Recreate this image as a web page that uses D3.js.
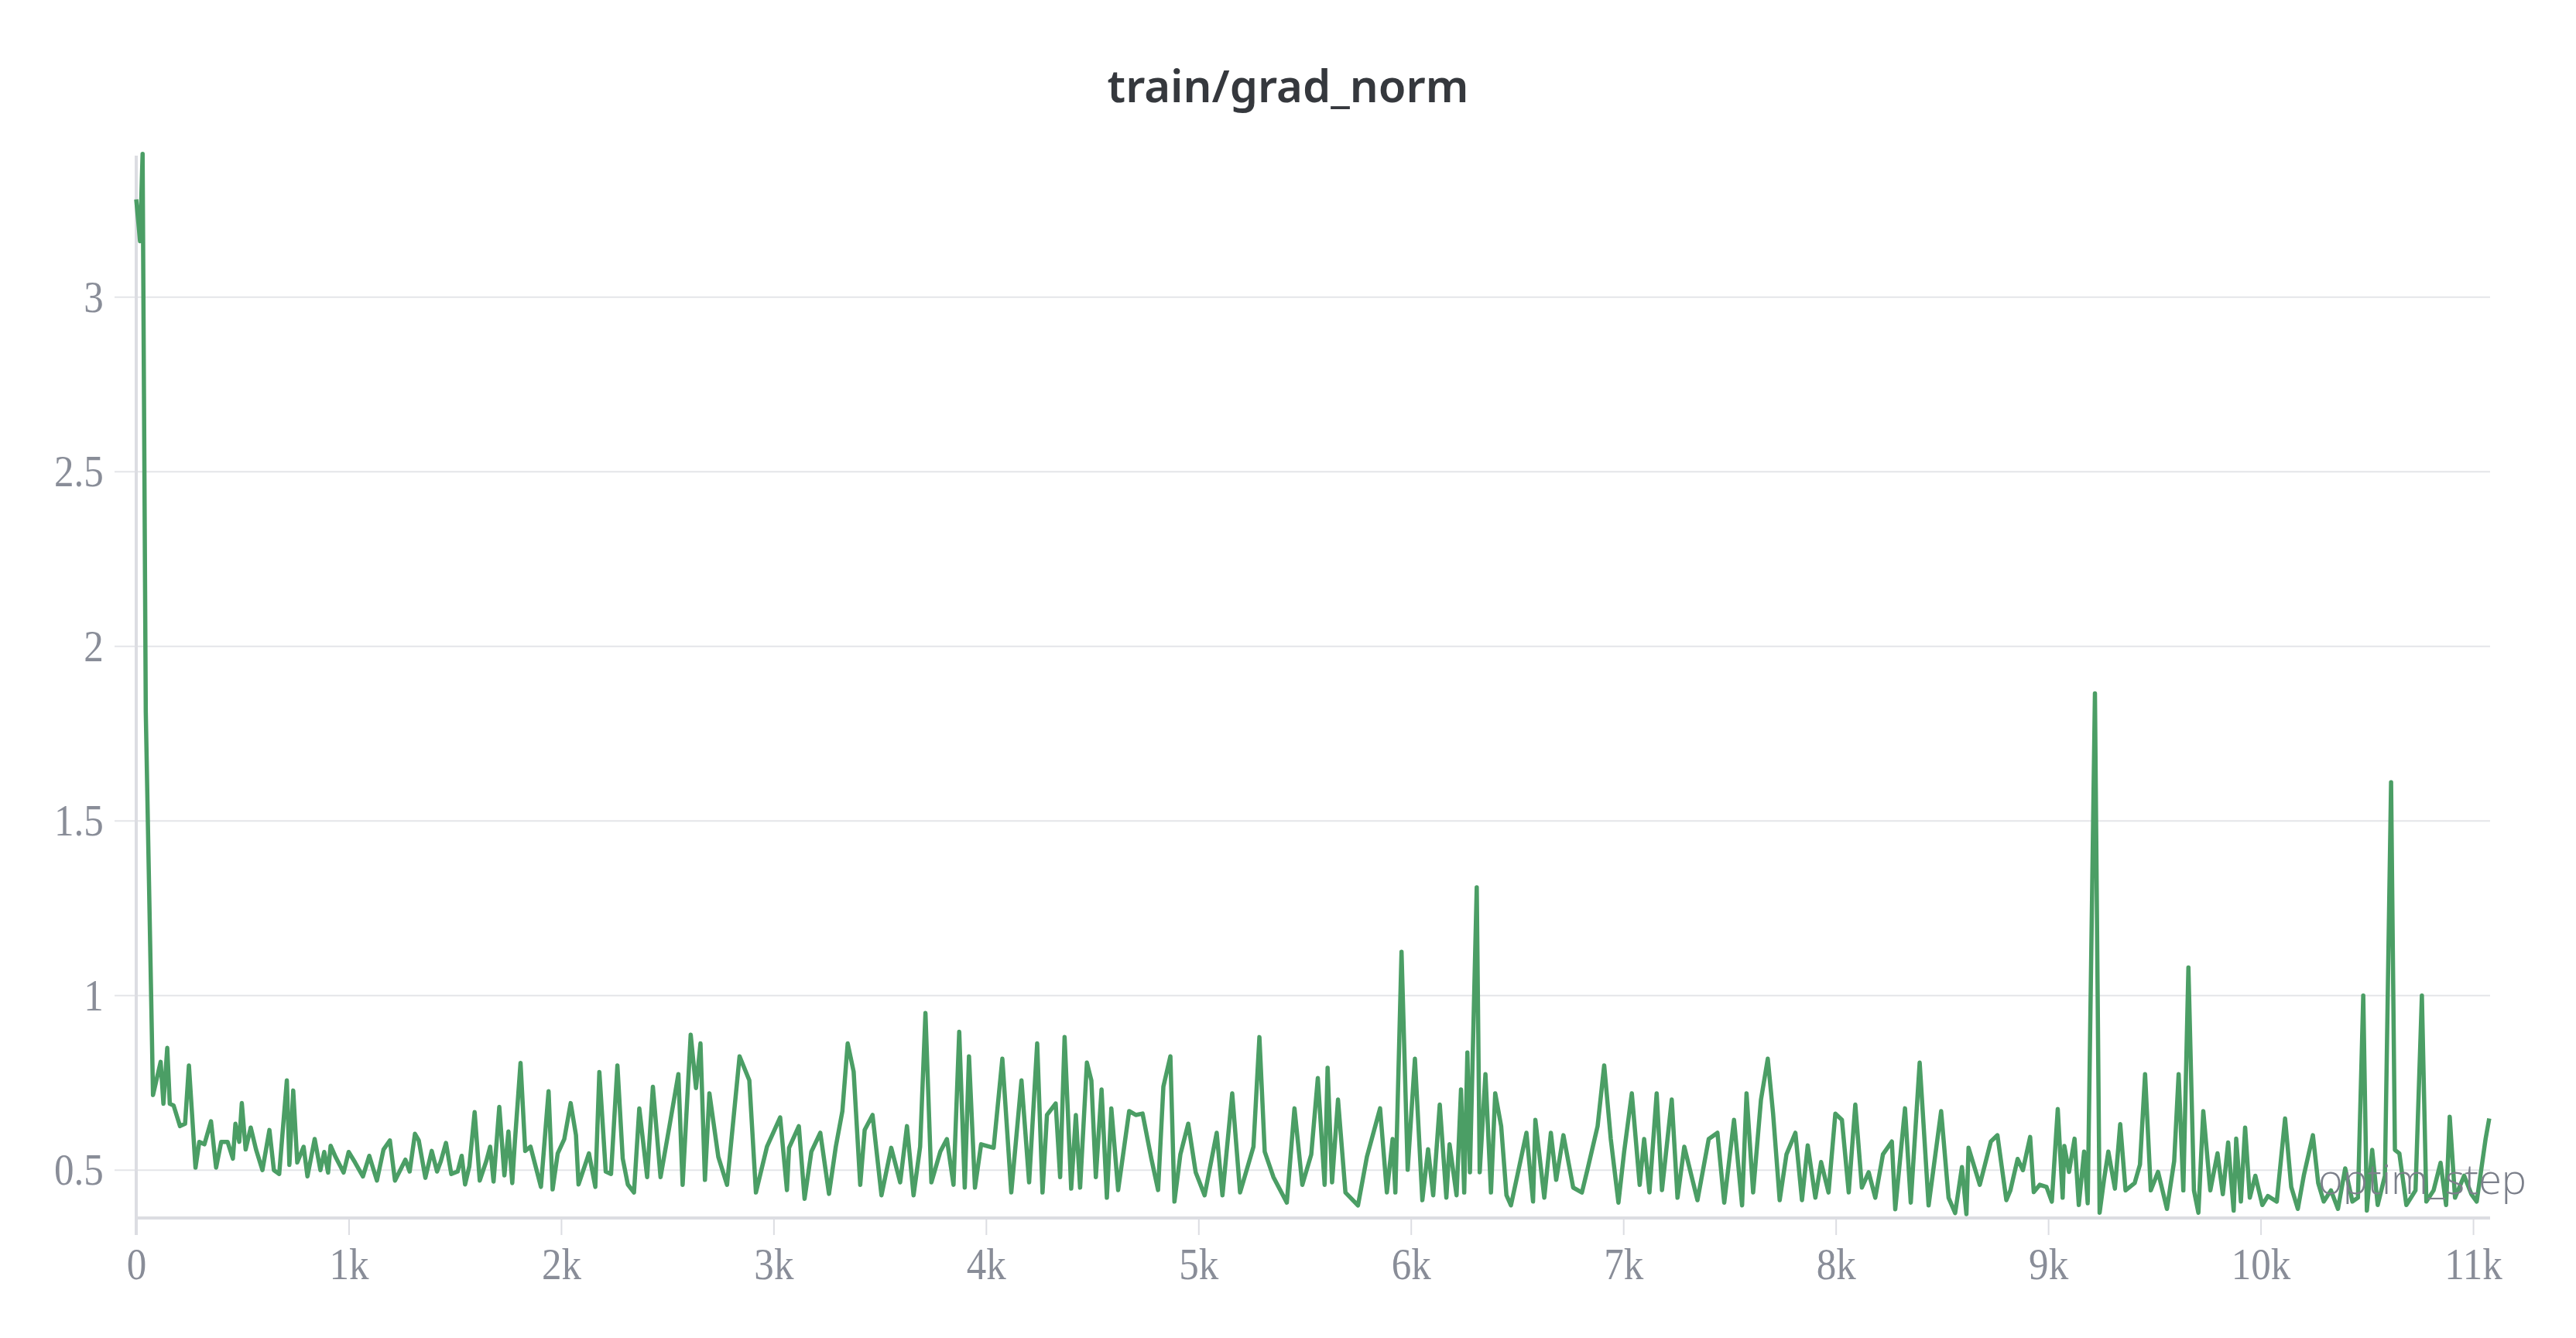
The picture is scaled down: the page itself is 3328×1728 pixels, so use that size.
<!DOCTYPE html>
<html>
<head>
<meta charset="utf-8">
<title>train/grad_norm</title>
<style>
  html, body { margin: 0; padding: 0; background: #fff; }
  svg { display: block; }
</style>
</head>
<body>
<div id="chart"></div>
<script src="https://cdn.jsdelivr.net/npm/d3@7"></script>
<script>
// optim_step values
var steps = [
  0, 18, 30, 45, 79, 115, 128, 146, 158, 176, 206, 230, 248, 279, 297, 321, 352, 376, 400, 430,
  455, 467, 485, 497, 515, 539, 564, 594, 627, 648, 673, 709, 721, 739, 758, 788, 806, 840, 867, 885,
  903, 915, 939, 976, 1000, 1030, 1067, 1097, 1133, 1164, 1194, 1218, 1267, 1287, 1312, 1330, 1361, 1391, 1416, 1434,
  1458, 1483, 1513, 1532, 1548, 1568, 1593, 1617, 1648, 1666, 1682, 1709, 1733, 1752, 1770, 1782, 1809, 1831, 1856, 1905,
  1941, 1960, 1984, 2015, 2045, 2070, 2082, 2131, 2161, 2180, 2210, 2235, 2265, 2290, 2314, 2343, 2368, 2405, 2432, 2468,
  2510, 2552, 2572, 2610, 2635, 2656, 2677, 2698, 2740, 2781, 2840, 2886, 2917, 2969, 3031, 3063, 3073, 3119, 3146, 3178,
  3220, 3261, 3293, 3324, 3349, 3377, 3408, 3429, 3466, 3508, 3554, 3596, 3628, 3659, 3690, 3715, 3743, 3785, 3816, 3847,
  3874, 3900, 3920, 3948, 3977, 4036, 4077, 4119, 4167, 4203, 4241, 4266, 4287, 4328, 4349, 4370, 4401, 4423, 4443, 4475,
  4496, 4517, 4544, 4569, 4590, 4622, 4674, 4705, 4737, 4779, 4810, 4835, 4868, 4887, 4915, 4952, 4987, 5029, 5086, 5113,
  5159, 5196, 5238, 5259, 5287, 5312, 5353, 5416, 5452, 5489, 5531, 5562, 5594, 5608, 5629, 5657, 5692, 5751, 5793, 5855,
  5887, 5914, 5927, 5956, 5985, 6019, 6054, 6081, 6105, 6136, 6167, 6182, 6215, 6236, 6251, 6266, 6278, 6310, 6324, 6351,
  6377, 6397, 6425, 6450, 6471, 6502, 6544, 6575, 6586, 6628, 6659, 6684, 6718, 6764, 6805, 6831, 6879, 6910, 6941, 6977,
  7004, 7040, 7077, 7098, 7123, 7157, 7182, 7228, 7255, 7287, 7349, 7402, 7443, 7475, 7521, 7559, 7580, 7611, 7648, 7680,
  7705, 7736, 7768, 7810, 7841, 7868, 7904, 7931, 7966, 7998, 8029, 8061, 8092, 8123, 8155, 8186, 8222, 8264, 8280, 8326,
  8353, 8395, 8437, 8496, 8531, 8562, 8594, 8615, 8625, 8678, 8730, 8761, 8803, 8822, 8856, 8881, 8898, 8915, 8932, 8960,
  8992, 9017, 9045, 9068, 9076, 9098, 9124, 9144, 9169, 9186, 9220, 9242, 9263, 9283, 9314, 9339, 9364, 9407, 9432, 9456,
  9483, 9517, 9559, 9593, 9614, 9636, 9660, 9686, 9707, 9730, 9763, 9797, 9822, 9847, 9873, 9885, 9907, 9927, 9949, 9975,
  10008, 10034, 10076, 10115, 10144, 10175, 10203, 10246, 10271, 10297, 10331, 10364, 10398, 10432, 10458, 10483, 10500, 10525, 10551, 10585,
  10614, 10632, 10653, 10686, 10729, 10759, 10780, 10814, 10847, 10873, 10890, 10915, 10958, 10992, 11017, 11059, 11076
];

// train/grad_norm at each step
var gradNorm = [
  3.28, 3.16, 3.41, 1.81, 0.715, 0.81, 0.69, 0.85, 0.69, 0.685, 0.626, 0.633, 0.80, 0.507, 0.581, 0.574, 0.64, 0.507, 0.581, 0.581,
  0.533, 0.633, 0.581, 0.692, 0.559, 0.622, 0.559, 0.50, 0.615, 0.50, 0.489, 0.757, 0.515, 0.728, 0.522, 0.567, 0.482, 0.589, 0.50, 0.552,
  0.493, 0.57, 0.537, 0.493, 0.552, 0.522, 0.482, 0.541, 0.47, 0.559, 0.585, 0.47, 0.53, 0.496, 0.604, 0.585, 0.478, 0.555, 0.496, 0.526,
  0.578, 0.489, 0.496, 0.541, 0.459, 0.511, 0.666, 0.47, 0.526, 0.567, 0.467, 0.681, 0.485, 0.611, 0.463, 0.578, 0.807, 0.555, 0.567, 0.452,
  0.726, 0.445, 0.548, 0.589, 0.692, 0.60, 0.459, 0.548, 0.452, 0.781, 0.496, 0.489, 0.80, 0.533, 0.459, 0.436, 0.677, 0.48, 0.739, 0.48,
  0.626, 0.775, 0.458, 0.888, 0.735, 0.863, 0.472, 0.72, 0.538, 0.458, 0.826, 0.757, 0.436, 0.567, 0.651, 0.443, 0.564, 0.626, 0.418, 0.553,
  0.607, 0.432, 0.567, 0.669, 0.863, 0.782, 0.458, 0.615, 0.658, 0.428, 0.564, 0.465, 0.626, 0.428, 0.567, 0.95, 0.465, 0.553, 0.589, 0.458,
  0.896, 0.45, 0.826, 0.45, 0.574, 0.564, 0.819, 0.436, 0.757, 0.465, 0.863, 0.436, 0.658, 0.691, 0.48, 0.881, 0.447, 0.658, 0.45, 0.808,
  0.757, 0.48, 0.731, 0.421, 0.677, 0.443, 0.669, 0.658, 0.662, 0.531, 0.443, 0.739, 0.826, 0.41, 0.545, 0.633, 0.494, 0.428, 0.607, 0.428,
  0.72, 0.436, 0.523, 0.567, 0.881, 0.553, 0.48, 0.407, 0.677, 0.458, 0.545, 0.764, 0.458, 0.793, 0.465, 0.702, 0.436, 0.399, 0.538, 0.677,
  0.436, 0.589, 0.436, 1.125, 0.501, 0.819, 0.414, 0.56, 0.428, 0.688, 0.421, 0.574, 0.428, 0.731, 0.436, 0.837, 0.494, 1.31, 0.494, 0.775,
  0.436, 0.72, 0.626, 0.428, 0.399, 0.487, 0.607, 0.41, 0.644, 0.421, 0.607, 0.472, 0.60, 0.45, 0.436, 0.501, 0.626, 0.80, 0.589, 0.407,
  0.553, 0.72, 0.458, 0.589, 0.436, 0.72, 0.443, 0.702, 0.421, 0.567, 0.414, 0.589, 0.607, 0.407, 0.644, 0.399, 0.72, 0.436, 0.702, 0.819,
  0.662, 0.414, 0.545, 0.607, 0.414, 0.571, 0.421, 0.523, 0.436, 0.662, 0.644, 0.436, 0.688, 0.45, 0.494, 0.421, 0.545, 0.582, 0.388, 0.677,
  0.407, 0.808, 0.399, 0.669, 0.421, 0.377, 0.509, 0.374, 0.564, 0.458, 0.582, 0.60, 0.414, 0.442, 0.532, 0.50, 0.548, 0.595, 0.437, 0.458,
  0.452, 0.41, 0.675, 0.421, 0.569, 0.495, 0.59, 0.40, 0.553, 0.405, 1.865, 0.378, 0.474, 0.553, 0.447, 0.632, 0.442, 0.463, 0.516, 0.775,
  0.442, 0.495, 0.389, 0.526, 0.775, 0.442, 1.08, 0.442, 0.378, 0.669, 0.442, 0.548, 0.431, 0.579, 0.384, 0.59, 0.41, 0.622, 0.421, 0.484,
  0.40, 0.426, 0.41, 0.648, 0.452, 0.389, 0.484, 0.60, 0.463, 0.41, 0.442, 0.389, 0.505, 0.41, 0.421, 1.0, 0.384, 0.558, 0.40, 0.484,
  1.611, 0.558, 0.548, 0.40, 0.442, 1.0, 0.41, 0.442, 0.521, 0.40, 0.653, 0.421, 0.484, 0.431, 0.41, 0.59, 0.648
];

var yTicks = [0.5, 1, 1.5, 2, 2.5, 3];
var xTicks = [0, 1000, 2000, 3000, 4000, 5000, 6000, 7000, 8000, 9000, 10000, 11000];
var xTickLabels = ["0", "1k", "2k", "3k", "4k", "5k", "6k", "7k", "8k", "9k", "10k", "11k"];

var width = 3328;
var height = 1728;
var plotLeft = 176, plotRight = 3217, plotTop = 201, plotBottom = 1573;

var x = d3.scaleLinear().domain([0, 11080]).range([plotLeft, plotRight]);
var y = d3.scaleLinear().domain([0.363, 3.405]).range([plotBottom, plotTop]);

var svg = d3.select("#chart").append("svg")
  .attr("width", width)
  .attr("height", height);

// title
svg.append("text")
  .attr("x", 1664)
  .attr("y", 132)
  .attr("text-anchor", "middle")
  .attr("font-family", "'Noto Sans', sans-serif")
  .attr("font-weight", 600)
  .attr("font-size", 58)
  .attr("fill", "#35383d")
  .text("train/grad_norm");

// horizontal grid lines
svg.append("g").selectAll("line")
  .data(yTicks)
  .enter().append("line")
  .attr("x1", plotLeft - 28)
  .attr("x2", plotRight)
  .attr("y1", function(d) { return y(d); })
  .attr("y2", function(d) { return y(d); })
  .attr("stroke", "#e4e5e9")
  .attr("stroke-width", 2);

// y axis labels (narrow serif, like the reference)
var yAxis = svg.append("g")
  .attr("transform", "translate(" + plotLeft + ",0)")
  .call(d3.axisLeft(y).tickValues(yTicks).tickSize(0).tickPadding(48)
    .tickFormat(function(d) { return d; }));
yAxis.select(".domain").remove();
yAxis.selectAll("text")
  .attr("font-family", "'Liberation Serif', serif")
  .attr("font-size", 58)
  .attr("fill", "#898d98")
  .attr("transform", "scale(0.88,1)");

// x axis
var xAxis = svg.append("g")
  .attr("transform", "translate(0," + plotBottom + ")")
  .call(d3.axisBottom(x).tickValues(xTicks).tickSize(22)
    .tickFormat(function(d, i) { return xTickLabels[i]; }));
xAxis.select(".domain")
  .attr("d", "M" + plotLeft + ",0H" + plotRight)
  .attr("stroke", "#dcdde2")
  .attr("stroke-width", 4);
xAxis.selectAll(".tick line")
  .attr("stroke", "#dcdde2")
  .attr("stroke-width", 2);
xAxis.selectAll("text")
  .attr("y", 79)
  .attr("dy", null)
  .attr("font-family", "'Liberation Serif', serif")
  .attr("font-size", 58)
  .attr("fill", "#898d98")
  .attr("transform", "scale(0.88,1)");

// left axis line
svg.append("line")
  .attr("x1", plotLeft).attr("x2", plotLeft)
  .attr("y1", plotTop).attr("y2", plotBottom + 22)
  .attr("stroke", "#dcdde2")
  .attr("stroke-width", 4);

// the series
var line = d3.line()
  .x(function(d, i) { return x(steps[i]); })
  .y(function(d) { return y(d); });

svg.append("path")
  .datum(gradNorm)
  .attr("d", line)
  .attr("fill", "none")
  .attr("stroke", "#4b9e65")
  .attr("stroke-width", 5.5)
  .attr("stroke-linejoin", "round");

// x axis name
svg.append("text")
  .attr("x", 3264)
  .attr("y", 1542)
  .attr("text-anchor", "end")
  .attr("font-family", "'Open Sans', sans-serif")
  .attr("font-weight", 300)
  .attr("font-size", 54)
  .attr("fill", "#7b7f8a")
  .text("optim_step");
</script>
</body>
</html>
